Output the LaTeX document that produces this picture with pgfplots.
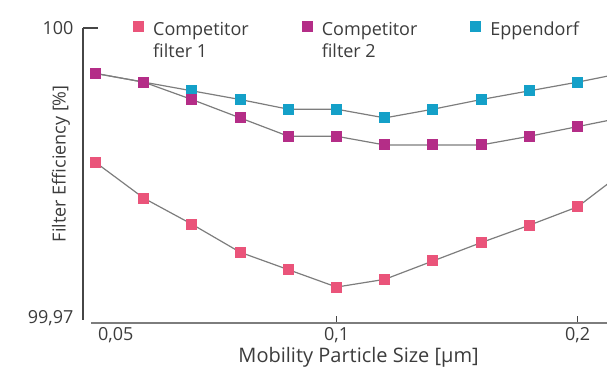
\documentclass[border=0pt]{standalone}
\usepackage{pgfplots}
\pgfplotsset{compat=1.18}
\usepackage{fontspec}
\setmainfont{Open Sans}
\definecolor{cpink}{RGB}{234,84,122}
\definecolor{cmag}{RGB}{180,45,135}
\definecolor{ccyan}{RGB}{20,160,200}
\definecolor{ctext}{RGB}{60,60,60}
\definecolor{cline}{RGB}{125,125,125}
\definecolor{caxis}{RGB}{70,70,70}
% y values: filter efficiency in units of 0.001 % above 99.97 %
% x values: step index k, particle size = 0.05 * 2^(k/5) um
\pgfplotstableread{
k y
0 16.1
1 12.4
2 9.7
3 6.8
4 5.0
5 3.2
6 4.0
7 5.9
8 7.8
9 9.6
10 11.5
11 15.3
}\tabpink
\pgfplotstableread{
k y
0 25.3
1 24.4
2 22.6
3 20.7
4 18.8
5 18.8
6 17.9
7 17.9
8 17.9
9 18.8
10 19.8
11 20.8
}\tabmag
\pgfplotstableread{
k y
0 25.3
1 24.4
2 23.5
3 22.6
4 21.6
5 21.6
6 20.7
7 21.6
8 22.6
9 23.5
10 24.4
11 25.4
}\tabcyan
\begin{document}
\begin{tikzpicture}[font=\fontsize{18}{22}\selectfont]
\begin{axis}[name=ax, scale only axis, width=524pt, height=295pt,
  xmin=-0.26, xmax=10.61, ymin=-0.517, ymax=30,
  axis line style={draw=none},
  tick pos=left, tick align=inside, major tick length=7pt,
  every tick/.style={caxis, line width=1.2pt},
  xtick={5,10}, xticklabels={{0,1},{0,2}},
  extra x ticks={0.42}, extra x tick labels={{0,05},{}},
  extra x tick style={major tick length=0pt},
  ytick=\empty,
  extra y ticks={0,30}, extra y tick labels={{99,97},{100}},
  extra y tick style={major tick length=0pt},
  tick label style={text=ctext},
  xticklabel style={yshift=-1pt},
  yticklabel style={xshift=-6pt},
  xlabel={Mobility Particle Size [µm]},
  ylabel={Filter Efficiency [\%]},
  label style={text=ctext},
  xlabel style={at={(axis description cs:0.526,-0.115)}, anchor=center, font=\fontsize{20}{24}\selectfont},
  ylabel style={at={(axis description cs:-0.042,0.54)}, anchor=center},
  legend columns=3,
  legend cell align=left,
  legend style={at={(axis description cs:0.0964,1.035)}, anchor=north west, xshift=-3.5pt,
    draw=none, fill=none, text=ctext,
    nodes={align=left, inner sep=2pt},
    /tikz/every odd column/.append style={column sep=7pt},
    /tikz/every even column/.append style={column sep=51pt}},
  legend image code/.code={\fill[#1] (0pt,8.5pt) rectangle (11pt,19.5pt);},
]
\addlegendimage{fill=cpink, draw=none}
\addlegendimage{fill=cmag, draw=none}
\addlegendimage{fill=ccyan, draw=none}
\legend{{Competitor\\filter 1},{Competitor\\filter 2},{Eppendorf\\\phantom{f}}}
\addplot[forget plot, cline, line width=1.2pt, mark=square*, mark size=5pt,
  mark options={fill=ccyan, draw=ccyan, line width=0pt}] table[x=k, y=y] {\tabcyan};
\addplot[forget plot, cline, line width=1.2pt, mark=square*, mark size=5pt,
  mark options={fill=cmag, draw=cmag, line width=0pt}] table[x=k, y=y] {\tabmag};
\addplot[forget plot, cline, line width=1.2pt, mark=square*, mark size=5pt,
  mark options={fill=cpink, draw=cpink, line width=0pt}] table[x=k, y=y] {\tabpink};
\end{axis}
% axis lines and the 100 tick
\draw[caxis, line width=1.6pt] ([yshift=3pt]ax.south west) -- (ax.north west);
\draw[caxis, line width=1.2pt] (ax.north west) -- ++(15pt,0);
\draw[cline, line width=2pt] ([xshift=8pt]ax.south west) -- (ax.south east);
\pgfresetboundingbox
\path[use as bounding box] ([xshift=-83pt,yshift=-46pt]ax.south west) rectangle ([yshift=28pt]ax.north east);
\end{tikzpicture}
\end{document}
